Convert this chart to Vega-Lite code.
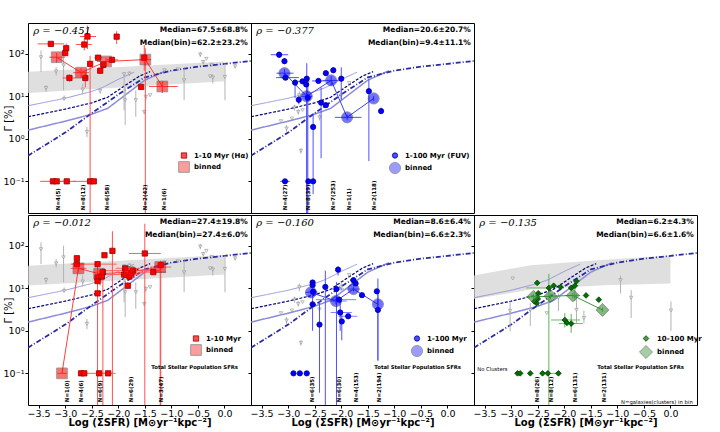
{
"$schema":"https://vega.github.io/schema/vega-lite/v6.json",
"background":"white",
"padding":{"left":2,"top":22,"right":0,"bottom":0},
"autosize":{"type":"pad"},
"config":{"font":"DejaVu Sans","view":{"stroke":"black","strokeWidth":1},
 "axis":{"domain":false,"grid":false,"tickColor":"black","tickSize":3,"labelColor":"black","labelFontSize":9.5,"titleColor":"black","titleFontSize":10,"titleFontWeight":"normal","labelPadding":1},
 "legend":{"labelFontSize":7,"labelFontWeight":"bold","padding":0,"rowPadding":0,"labelOffset":4,"symbolStrokeWidth":0.8},
 "text":{"color":"black"}},
"datasets":{
"band":[
{"p":"p1","x":-3.7,"lo":12,"hi":38},{"p":"p1","x":0.0,"lo":22.5,"hi":66},
{"p":"p3","x":-3.7,"lo":11.7,"hi":34},{"p":"p3","x":0.0,"lo":21,"hi":61},
{"p":"p5","x":-3.7,"lo":5.6,"hi":20},{"p":"p5","x":-3.13,"lo":7.3,"hi":27},{"p":"p5","x":-2.63,"lo":9.4,"hi":35},{"p":"p5","x":-1.68,"lo":11,"hi":43},{"p":"p5","x":-1.25,"lo":11.8,"hi":47},{"p":"p5","x":0.0,"lo":12.9,"hi":58}
],
"model":[
{"m":"up","x":-3.7,"y":6.0},{"m":"up","x":-3.0,"y":9.0},{"m":"up","x":-2.5,"y":13},{"m":"up","x":-2.3,"y":16},{"m":"up","x":-2.0,"y":25},{"m":"up","x":-1.7,"y":37},
{"m":"dash","x":-3.7,"y":3.3},{"m":"dash","x":-3.0,"y":5.0},{"m":"dash","x":-2.5,"y":7.0},{"m":"dash","x":-2.2,"y":9.5},{"m":"dash","x":-1.9,"y":17},{"m":"dash","x":-1.6,"y":30},{"m":"dash","x":-1.4,"y":38},
{"m":"low","x":-3.7,"y":1.6},{"m":"low","x":-3.0,"y":2.6},{"m":"low","x":-2.5,"y":3.8},{"m":"low","x":-2.2,"y":5.2},{"m":"low","x":-1.9,"y":10},{"m":"low","x":-1.5,"y":24},{"m":"low","x":-1.1,"y":40},
{"m":"dd","x":-3.7,"y":0.4},{"m":"dd","x":-3.0,"y":1.4},{"m":"dd","x":-2.5,"y":4.0},{"m":"dd","x":-2.0,"y":11},{"m":"dd","x":-1.5,"y":28},{"m":"dd","x":-1.0,"y":40},{"m":"dd","x":-0.5,"y":50},{"m":"dd","x":0.0,"y":58},{"m":"dd","x":0.5,"y":68}
],
"grey":[
{"g":"A","x":-3.455,"y":83,"ylo":37,"yhi":120},{"g":"A","x":-3.36,"y":15.7,"ylo":12.6,"yhi":18},{"g":"A","x":-3.17,"y":38.5,"ylo":31,"yhi":49},{"g":"A","x":-3.03,"y":53.5,"ylo":13.8,"yhi":100},{"g":"A","x":-3.02,"y":8.7,"ylo":8.1,"yhi":10.5},{"g":"A","x":-2.67,"y":14.4,"ylo":11,"yhi":20},{"g":"A","x":-2.59,"y":1.46,"ylo":1.1,"yhi":1.9},{"g":"A","x":-2.34,"y":13.4,"ylo":11.5,"yhi":15},{"g":"A","x":-1.89,"y":33,"ylo":4.7,"yhi":37},{"g":"A","x":-1.87,"y":8.1,"ylo":2.1,"yhi":16.6},{"g":"A","x":-1.79,"y":34,"ylo":30,"yhi":39},{"g":"A","x":-1.67,"y":8.1,"ylo":3.3,"yhi":13.8},{"g":"A","x":-1.51,"y":4.3,"ylo":3.8,"yhi":4.8},{"g":"A","x":-1.48,"y":9.7,"ylo":8,"yhi":11},{"g":"A","x":-1.40,"y":10.6},{"g":"A","x":-1.13,"y":41,"ylo":38,"yhi":44},{"g":"A","x":-0.88,"y":43},{"g":"A","x":-0.76,"y":23.7,"ylo":8.1,"yhi":45},{"g":"A","x":-0.455,"y":96,"ylo":83,"yhi":110},{"g":"A","x":-0.40,"y":64,"ylo":57,"yhi":72},{"g":"A","x":-0.34,"y":76},{"g":"A","x":-0.24,"y":55,"ylo":50,"yhi":60},{"g":"A","x":-0.27,"y":29.5},{"g":"A","x":-0.22,"y":27.5,"ylo":20,"yhi":33},{"g":"A","x":0.01,"y":28.5,"ylo":8.1,"yhi":59},{"g":"A","x":0.20,"y":51,"ylo":45,"yhi":58},
{"g":"B","x":-3.135,"y":2.6},{"g":"B","x":-3.03,"y":1.74,"ylo":1.45,"yhi":2.1},{"g":"B","x":-2.88,"y":5.4,"ylo":4.6,"yhi":6.4},{"g":"B","x":-2.93,"y":3.0},{"g":"B","x":-2.81,"y":4.3,"ylo":3.7,"yhi":5},{"g":"B","x":-2.79,"y":10.6,"ylo":8.5,"yhi":13},{"g":"B","x":-2.73,"y":4.7},{"g":"B","x":-2.76,"y":0.52,"ylo":0.45,"yhi":0.6},{"g":"B","x":-2.41,"y":3.2,"ylo":2.7,"yhi":3.8},{"g":"B","x":-2.0,"y":10.5,"ylo":8,"yhi":14},{"g":"B","x":-1.85,"y":20.5},
{"g":"C","x":-2.97,"y":17},{"g":"C","x":-3.02,"y":2.95,"ylo":0.98,"yhi":4.9},{"g":"C","x":-2.64,"y":3.1,"ylo":1.3,"yhi":4.5},{"g":"C","x":-2.33,"y":2.6},{"g":"C","x":-2.11,"y":6.0,"ylo":2.9,"yhi":7.5},{"g":"C","x":-1.77,"y":3.1,"ylo":1.5,"yhi":7.5},{"g":"C","x":-1.63,"y":2.0,"ylo":1.5,"yhi":3.0},{"g":"C","x":-0.94,"y":15.5,"ylo":7.6,"yhi":20},{"g":"C","x":-0.74,"y":6.0,"ylo":2.0,"yhi":9.1},{"g":"C","x":0.01,"y":3.0,"ylo":1.0,"yhi":4.9}
],
"pts":[
{"p":"p1","s":"1-10 Myr (Hα)","x":-3.27,"y":171,"xlo":-3.52,"xhi":-3.02,"ylo":150,"yhi":195},
{"p":"p1","s":"1-10 Myr (Hα)","x":-2.98,"y":135,"ylo":105,"yhi":175},
{"p":"p1","s":"1-10 Myr (Hα)","x":-3.0,"y":104,"ylo":88,"yhi":120},
{"p":"p1","s":"1-10 Myr (Hα)","x":-2.92,"y":27,"xlo":-3.05,"xhi":-2.8,"ylo":22,"yhi":33},
{"p":"p1","s":"1-10 Myr (Hα)","x":-2.64,"y":165,"xlo":-2.8,"xhi":-2.5,"ylo":120,"yhi":230},
{"p":"p1","s":"1-10 Myr (Hα)","x":-2.58,"y":255,"xlo":-2.72,"xhi":-2.42,"ylo":130,"yhi":460},
{"p":"p1","s":"1-10 Myr (Hα)","x":-2.53,"y":58,"ylo":0.01,"yhi":90},
{"p":"p1","s":"1-10 Myr (Hα)","x":-2.62,"y":27,"ylo":16,"yhi":38},
{"p":"p1","s":"1-10 Myr (Hα)","x":-2.38,"y":81,"xlo":-2.45,"xhi":-2.3},
{"p":"p1","s":"1-10 Myr (Hα)","x":-2.34,"y":40,"ylo":34,"yhi":47},
{"p":"p1","s":"1-10 Myr (Hα)","x":-2.28,"y":55,"ylo":45,"yhi":66},
{"p":"p1","s":"1-10 Myr (Hα)","x":-2.12,"y":72,"xlo":-2.22,"xhi":-2.0},
{"p":"p1","s":"1-10 Myr (Hα)","x":-2.03,"y":253,"ylo":170,"yhi":340},
{"p":"p1","s":"1-10 Myr (Hα)","x":-1.51,"y":81,"ylo":40,"yhi":160},
{"p":"p1","s":"1-10 Myr (Hα)","x":-1.57,"y":16.6},
{"p":"p1","s":"1-10 Myr (Hα)","x":-3.23,"y":0.1,"xlo":-3.47,"xhi":-3.0},
{"p":"p1","s":"1-10 Myr (Hα)","x":-3.16,"y":0.1},
{"p":"p1","s":"1-10 Myr (Hα)","x":-2.97,"y":0.1,"xlo":-3.1,"xhi":-2.8},
{"p":"p1","s":"1-10 Myr (Hα)","x":-2.53,"y":0.1,"xlo":-2.85,"xhi":-2.44},
{"p":"p1","s":"1-10 Myr (Hα)","x":-2.46,"y":0.1},
{"p":"p1","s":"binned","x":-3.16,"y":83,"xlo":-3.3,"xhi":-3.0,"ylo":62,"yhi":105},
{"p":"p1","s":"binned","x":-2.70,"y":36,"xlo":-2.85,"xhi":-2.55,"ylo":27,"yhi":46},
{"p":"p1","s":"binned","x":-2.23,"y":66,"xlo":-2.4,"xhi":-2.05,"ylo":52,"yhi":82},
{"p":"p1","s":"binned","x":-1.49,"y":73,"xlo":-1.6,"xhi":-1.38,"ylo":0.01,"yhi":135},
{"p":"p1","s":"binned","x":-1.17,"y":17,"xlo":-1.42,"xhi":-0.88,"ylo":12,"yhi":23},

{"p":"p2","s":"1-100 Myr (FUV)","x":-3.17,"y":95,"xlo":-3.33,"xhi":-3.0,"ylo":80,"yhi":112},
{"p":"p2","s":"1-100 Myr (FUV)","x":-3.07,"y":67,"ylo":57,"yhi":80},
{"p":"p2","s":"1-100 Myr (FUV)","x":-3.05,"y":27.5,"xlo":-3.23,"xhi":-2.8},
{"p":"p2","s":"1-100 Myr (FUV)","x":-2.87,"y":21,"ylo":9,"yhi":25},
{"p":"p2","s":"1-100 Myr (FUV)","x":-2.80,"y":8.3,"ylo":6.5,"yhi":10},
{"p":"p2","s":"1-100 Myr (FUV)","x":-2.73,"y":22.5,"xlo":-2.86,"xhi":-2.6},
{"p":"p2","s":"1-100 Myr (FUV)","x":-2.65,"y":26,"ylo":0.01,"yhi":60},
{"p":"p2","s":"1-100 Myr (FUV)","x":-2.66,"y":19},
{"p":"p2","s":"1-100 Myr (FUV)","x":-2.63,"y":9.3,"ylo":0.01,"yhi":20},
{"p":"p2","s":"1-100 Myr (FUV)","x":-2.53,"y":1.9,"ylo":0.05,"yhi":4.0},
{"p":"p2","s":"1-100 Myr (FUV)","x":-2.43,"y":23,"xlo":-2.55,"xhi":-2.3},
{"p":"p2","s":"1-100 Myr (FUV)","x":-2.38,"y":7.1,"ylo":0.35,"yhi":16},
{"p":"p2","s":"1-100 Myr (FUV)","x":-2.29,"y":35,"ylo":30,"yhi":40},
{"p":"p2","s":"1-100 Myr (FUV)","x":-2.29,"y":6.2,"ylo":5.4,"yhi":7.2},
{"p":"p2","s":"1-100 Myr (FUV)","x":-2.15,"y":41,"ylo":36,"yhi":46},
{"p":"p2","s":"1-100 Myr (FUV)","x":-2.0,"y":26,"ylo":8,"yhi":48},
{"p":"p2","s":"1-100 Myr (FUV)","x":-1.48,"y":13.2,"ylo":0.3,"yhi":26},
{"p":"p2","s":"1-100 Myr (FUV)","x":-1.25,"y":4.5,"ylo":3.8,"yhi":5.4},
{"p":"p2","s":"1-100 Myr (FUV)","x":-3.06,"y":0.1,"xlo":-3.15,"xhi":-2.97},
{"p":"p2","s":"1-100 Myr (FUV)","x":-2.62,"y":0.1},
{"p":"p2","s":"1-100 Myr (FUV)","x":-2.53,"y":0.1},
{"p":"p2","s":"binned","x":-3.07,"y":35,"xlo":-3.22,"xhi":-2.9,"ylo":28,"yhi":43},
{"p":"p2","s":"binned","x":-2.65,"y":10,"xlo":-2.78,"xhi":-2.55,"ylo":0.01,"yhi":22},
{"p":"p2","s":"binned","x":-2.19,"y":23.7,"xlo":-2.35,"xhi":-2.05,"ylo":18,"yhi":30},
{"p":"p2","s":"binned","x":-1.89,"y":3.2,"xlo":-2.12,"xhi":-1.62,"ylo":2.8,"yhi":3.7},
{"p":"p2","s":"binned","x":-1.39,"y":8.9,"ylo":7.8,"yhi":10},

{"p":"p3","s":"1-10 Myr","x":-2.78,"y":51,"ylo":44,"yhi":58},
{"p":"p3","s":"1-10 Myr","x":-2.78,"y":37,"xlo":-2.9,"xhi":-2.65},
{"p":"p3","s":"1-10 Myr","x":-2.39,"y":37,"xlo":-2.77,"xhi":-2.03},
{"p":"p3","s":"1-10 Myr","x":-2.39,"y":18},
{"p":"p3","s":"1-10 Myr","x":-2.39,"y":14.8,"ylo":0.01,"yhi":40},
{"p":"p3","s":"1-10 Myr","x":-2.39,"y":7.6,"ylo":6.5,"yhi":9},
{"p":"p3","s":"1-10 Myr","x":-2.31,"y":19,"ylo":15,"yhi":23},
{"p":"p3","s":"1-10 Myr","x":-2.29,"y":24,"ylo":0.01,"yhi":30},
{"p":"p3","s":"1-10 Myr","x":-2.26,"y":60},
{"p":"p3","s":"1-10 Myr","x":-2.11,"y":76,"ylo":0.01,"yhi":220},
{"p":"p3","s":"1-10 Myr","x":-1.89,"y":21,"xlo":-2.3,"xhi":-1.6},
{"p":"p3","s":"1-10 Myr","x":-1.87,"y":29.5,"xlo":-2.05,"xhi":-1.6},
{"p":"p3","s":"1-10 Myr","x":-1.82,"y":11.5,"ylo":9.5,"yhi":14},
{"p":"p3","s":"1-10 Myr","x":-1.79,"y":19},
{"p":"p3","s":"1-10 Myr","x":-1.76,"y":23,"xlo":-2.0,"xhi":-1.5},
{"p":"p3","s":"1-10 Myr","x":-1.72,"y":26,"xlo":-2.3,"xhi":-1.2},
{"p":"p3","s":"1-10 Myr","x":-1.50,"y":66,"xlo":-1.8,"xhi":-1.2,"ylo":0.01,"yhi":330},
{"p":"p3","s":"1-10 Myr","x":-1.34,"y":24,"xlo":-1.6,"xhi":-1.1},
{"p":"p3","s":"1-10 Myr","x":-1.20,"y":35,"ylo":0.01,"yhi":45},
{"p":"p3","s":"1-10 Myr","x":-2.70,"y":0.1},
{"p":"p3","s":"1-10 Myr","x":-2.64,"y":0.1},
{"p":"p3","s":"1-10 Myr","x":-2.36,"y":0.1,"xlo":-2.7,"xhi":-2.1},
{"p":"p3","s":"1-10 Myr","x":-2.19,"y":0.1,"xlo":-2.3,"xhi":-2.05},
{"p":"p3","s":"binned","x":-3.06,"y":0.1,"xlo":-3.15,"xhi":-2.97},
{"p":"p3","s":"binned","x":-2.75,"y":29.5,"xlo":-2.9,"xhi":-2.6,"ylo":25,"yhi":35},
{"p":"p3","s":"binned","x":-2.36,"y":22,"ylo":17,"yhi":27},
{"p":"p3","s":"binned","x":-1.80,"y":24,"ylo":20,"yhi":28},
{"p":"p3","s":"binned","x":-1.21,"y":31.6,"xlo":-1.4,"xhi":-1.0,"ylo":0.01,"yhi":40},

{"p":"p4","s":"1-100 Myr","x":-2.54,"y":13.7},
{"p":"p4","s":"1-100 Myr","x":-2.54,"y":11.8,"ylo":10,"yhi":13.5},
{"p":"p4","s":"1-100 Myr","x":-2.53,"y":8.3,"xlo":-2.62,"xhi":-2.45},
{"p":"p4","s":"1-100 Myr","x":-2.54,"y":4.2,"ylo":1.0,"yhi":7},
{"p":"p4","s":"1-100 Myr","x":-2.41,"y":1.4,"ylo":0.035,"yhi":4.9},
{"p":"p4","s":"1-100 Myr","x":-2.30,"y":10.8,"ylo":0.01,"yhi":26},
{"p":"p4","s":"1-100 Myr","x":-2.06,"y":27.5,"ylo":20,"yhi":33},
{"p":"p4","s":"1-100 Myr","x":-2.09,"y":9.6,"xlo":-2.2,"xhi":-1.95,"ylo":0.01,"yhi":14},
{"p":"p4","s":"1-100 Myr","x":-2.04,"y":5.4,"xlo":-2.48,"xhi":-1.72},
{"p":"p4","s":"1-100 Myr","x":-2.02,"y":2.7,"xlo":-2.2,"xhi":-1.8,"ylo":1.0,"yhi":5.5},
{"p":"p4","s":"1-100 Myr","x":-1.99,"y":1.66,"ylo":0.6,"yhi":2.7},
{"p":"p4","s":"1-100 Myr","x":-1.87,"y":2.2,"xlo":-2.05,"xhi":-1.7},
{"p":"p4","s":"1-100 Myr","x":-1.77,"y":15.5},
{"p":"p4","s":"1-100 Myr","x":-1.73,"y":13},
{"p":"p4","s":"1-100 Myr","x":-1.61,"y":6.9},
{"p":"p4","s":"1-100 Myr","x":-1.33,"y":8.5},
{"p":"p4","s":"1-100 Myr","x":-1.31,"y":3.1,"ylo":0.2,"yhi":17},
{"p":"p4","s":"1-100 Myr","x":-2.90,"y":0.1},
{"p":"p4","s":"1-100 Myr","x":-2.78,"y":0.1},
{"p":"p4","s":"1-100 Myr","x":-2.65,"y":0.1},
{"p":"p4","s":"binned","x":-2.57,"y":8.0,"xlo":-2.68,"xhi":-2.45,"ylo":7,"yhi":9},
{"p":"p4","s":"binned","x":-2.10,"y":5.0,"xlo":-2.3,"xhi":-1.9,"ylo":4.3,"yhi":5.8},
{"p":"p4","s":"binned","x":-1.77,"y":9.6,"xlo":-1.9,"xhi":-1.65,"ylo":8.5,"yhi":11},
{"p":"p4","s":"binned","x":-1.31,"y":4.2,"ylo":0.2,"yhi":9},

{"p":"p5","s":"10-100 Myr","x":-2.51,"y":13.4},
{"p":"p5","s":"10-100 Myr","x":-2.49,"y":7.6},
{"p":"p5","s":"10-100 Myr","x":-2.50,"y":5.6},
{"p":"p5","s":"10-100 Myr","x":-2.52,"y":4.5},
{"p":"p5","s":"10-100 Myr","x":-2.56,"y":4.9},
{"p":"p5","s":"10-100 Myr","x":-2.29,"y":10.2,"xlo":-2.72,"xhi":-2.28,"ylo":0.01,"yhi":22},
{"p":"p5","s":"10-100 Myr","x":-2.20,"y":11.5},
{"p":"p5","s":"10-100 Myr","x":-2.07,"y":10.7},
{"p":"p5","s":"10-100 Myr","x":-1.87,"y":10.2},
{"p":"p5","s":"10-100 Myr","x":-1.80,"y":11.5,"ylo":5,"yhi":14},
{"p":"p5","s":"10-100 Myr","x":-1.77,"y":14.8},
{"p":"p5","s":"10-100 Myr","x":-1.59,"y":6.8},
{"p":"p5","s":"10-100 Myr","x":-1.35,"y":5.4},
{"p":"p5","s":"10-100 Myr","x":-1.99,"y":1.8,"xlo":-2.25,"xhi":-1.7,"ylo":1.2,"yhi":2.6},
{"p":"p5","s":"10-100 Myr","x":-1.95,"y":1.54},
{"p":"p5","s":"10-100 Myr","x":-1.87,"y":1.48,"xlo":-2.1,"xhi":-1.65,"ylo":0.9,"yhi":2.5},
{"p":"p5","s":"10-100 Myr","x":-2.88,"y":0.1,"xlo":-2.93,"xhi":-2.83},
{"p":"p5","s":"10-100 Myr","x":-2.83,"y":0.1},
{"p":"p5","s":"10-100 Myr","x":-2.64,"y":0.1},
{"p":"p5","s":"10-100 Myr","x":-2.41,"y":0.1},
{"p":"p5","s":"10-100 Myr","x":-2.31,"y":0.1,"xlo":-2.45,"xhi":-2.15},
{"p":"p5","s":"10-100 Myr","x":-2.11,"y":0.1},
{"p":"p5","s":"binned","x":-2.58,"y":6.3,"xlo":-2.72,"xhi":-2.45,"ylo":5.3,"yhi":7.3},
{"p":"p5","s":"binned","x":-2.26,"y":6.5,"ylo":5.5,"yhi":7.5},
{"p":"p5","s":"binned","x":-1.84,"y":6.8,"xlo":-1.98,"xhi":-1.7,"ylo":5.8,"yhi":7.8},
{"p":"p5","s":"binned","x":-1.28,"y":3.1,"ylo":2.8,"yhi":3.5}
],
"nlab":[
{"p":"p1","x":-3.14,"y":0.021,"t":"N=4(5)"},{"p":"p1","x":-2.67,"y":0.021,"t":"N=8(12)"},{"p":"p1","x":-2.21,"y":0.021,"t":"N=6(58)"},{"p":"p1","x":-1.50,"y":0.021,"t":"N=2(42)"},{"p":"p1","x":-1.13,"y":0.021,"t":"N=1(6)"},
{"p":"p2","x":-3.06,"y":0.021,"t":"N=4(27)"},{"p":"p2","x":-2.62,"y":0.021,"t":"N=8(39)"},{"p":"p2","x":-2.16,"y":0.021,"t":"N=7(253)"},{"p":"p2","x":-1.85,"y":0.021,"t":"N=1(1)"},{"p":"p2","x":-1.38,"y":0.021,"t":"N=2(118)"},
{"p":"p3","x":-2.97,"y":0.021,"t":"N=1(0)"},{"p":"p3","x":-2.70,"y":0.021,"t":"N=4(6)"},{"p":"p3","x":-2.34,"y":0.021,"t":"N=6(9)"},{"p":"p3","x":-1.76,"y":0.021,"t":"N=6(29)"},{"p":"p3","x":-1.20,"y":0.021,"t":"N=3(47)"},
{"p":"p4","x":-2.55,"y":0.021,"t":"N=6(35)"},{"p":"p4","x":-2.05,"y":0.021,"t":"N=6(30)"},{"p":"p4","x":-1.72,"y":0.021,"t":"N=4(153)"},{"p":"p4","x":-1.28,"y":0.021,"t":"N=2(194)"},
{"p":"p5","x":-2.51,"y":0.021,"t":"N=8(26)"},{"p":"p5","x":-2.25,"y":0.021,"t":"N=8(12)"},{"p":"p5","x":-1.80,"y":0.021,"t":"N=6(131)"},{"p":"p5","x":-1.25,"y":0.021,"t":"N=2(131)"}
],
"ann":[
{"p":"p1","k":"rho","t":"ρ = −0.451","x":-3.6,"y":344},
{"p":"p1","k":"med","t":"Median=67.5±68.8%","x":0.44,"y":362},
{"p":"p1","k":"med","t":"Median(bin)=62.2±23.2%","x":0.44,"y":179},
{"p":"p2","k":"rho","t":"ρ = −0.377","x":-3.6,"y":344},
{"p":"p2","k":"med","t":"Median=20.6±20.7%","x":0.44,"y":362},
{"p":"p2","k":"med","t":"Median(bin)=9.4±11.1%","x":0.44,"y":179},
{"p":"p3","k":"rho","t":"ρ = −0.012","x":-3.6,"y":344},
{"p":"p3","k":"med","t":"Median=27.4±19.8%","x":0.44,"y":362},
{"p":"p3","k":"med","t":"Median(bin)=27.4±6.0%","x":0.44,"y":179},
{"p":"p3","k":"tsp","t":"Total Stellar Population SFRs","x":0.255,"y":0.14},
{"p":"p4","k":"rho","t":"ρ = −0.160","x":-3.6,"y":344},
{"p":"p4","k":"med","t":"Median=8.6±6.4%","x":0.44,"y":362},
{"p":"p4","k":"med","t":"Median(bin)=6.6±2.3%","x":0.44,"y":179},
{"p":"p4","k":"tsp","t":"Total Stellar Population SFRs","x":0.255,"y":0.14},
{"p":"p5","k":"rho","t":"ρ = −0.135","x":-3.6,"y":344},
{"p":"p5","k":"med","t":"Median=6.2±4.3%","x":0.44,"y":362},
{"p":"p5","k":"med","t":"Median(bin)=6.6±1.6%","x":0.44,"y":179},
{"p":"p5","k":"tsp","t":"Total Stellar Population SFRs","x":0.255,"y":0.14},
{"p":"p5","k":"nocl","t":"No Clusters","x":-3.64,"y":0.1},
{"p":"p5","k":"nbin","t":"N=galaxies(clusters) in bin","x":0.42,"y":0.021}
]
},
"spacing":0,
"resolve":{"scale":{"fill":"independent","stroke":"independent","size":"independent","opacity":"independent"}},
"vconcat":[
{"spacing":0,"bounds":"flush",
 "resolve":{"scale":{"fill":"independent","stroke":"independent","size":"independent","opacity":"independent"}},
 "hconcat":[
 {"width":223,"height":190,
  "encoding":{
   "x":{"field":"x","type":"quantitative","scale":{"domain":[-3.7,0.5],"nice":false,"zero":false},"axis":{"values":[-3.5,-3,-2.5,-2,-1.5,-1,-0.5,0],"labels":false,"ticks":false,"title":null}},
   "y":{"field":"y","type":"quantitative","scale":{"type":"log","domain":[0.018,530],"nice":false},"axis":{"values":[0.1,1,10,100],"labelExpr":"datum.value>50?'10²':datum.value>5?'10¹':datum.value>0.5?'10⁰':'10⁻¹'","title":"Γ [%]","titleX":-20,"titleBaseline":"middle"}}},
  "layer":[
   {"data":{"name":"band"},"transform":[{"filter":"datum.p==='p1'"}],"mark":{"type":"area","color":"#d4d4d4","opacity":0.75},"encoding":{"y":{"field":"lo","type":"quantitative","scale":{"type":"log","domain":[0.018,530],"nice":false}},"y2":{"field":"hi"}}},
   {"data":{"values":[{}]},"mark":{"type":"rule","color":"#9999dd","strokeDash":[4,2],"strokeWidth":0.8},"encoding":{"x":{"datum":-3.7},"x2":{"datum":0.5},"y":{"datum":0.1}}},
   {"data":{"name":"model"},"mark":{"type":"line","clip":true},"encoding":{"color":{"field":"m","type":"nominal","scale":{"domain":["up","dash","low","dd"],"range":["#8c8cd9","#00007a","#8c8cd9","#2a2aa5"]},"legend":null},"strokeDash":{"field":"m","type":"nominal","scale":{"domain":["up","dash","low","dd"],"range":[[1,0],[3,1.5],[1,0],[5,2,1,2]]},"legend":null},"strokeWidth":{"field":"m","type":"ordinal","scale":{"domain":["up","dash","low","dd"],"range":[0.9,1.8,0.9,1.3]},"legend":null}}},
   {"data":{"name":"grey"},"transform":[{"filter":"datum.g==='A' && isValid(datum.ylo)"}],"mark":{"type":"rule","color":"#b3b3b3","strokeWidth":1,"clip":true},"encoding":{"y":{"field":"ylo","type":"quantitative","scale":{"type":"log","domain":[0.018,530],"nice":false}},"y2":{"field":"yhi"}}},
   {"data":{"name":"grey"},"transform":[{"filter":"datum.g==='A'"}],"mark":{"type":"point","shape":"triangle-down","size":12,"filled":true,"fill":"#f4f4f4","stroke":"#8a8a8a","strokeWidth":0.8}},
   {"data":{"name":"pts"},"transform":[{"filter":"datum.p==='p1' && isValid(datum.xlo)"}],"mark":{"type":"rule","color":"#ff5050","strokeWidth":1,"clip":true},"encoding":{"x":{"field":"xlo","type":"quantitative","scale":{"domain":[-3.7,0.5],"nice":false,"zero":false}},"x2":{"field":"xhi"}}},
   {"data":{"name":"pts"},"transform":[{"filter":"datum.p==='p1' && isValid(datum.ylo)"}],"mark":{"type":"rule","color":"#ff5050","strokeWidth":1,"clip":true},"encoding":{"y":{"field":"ylo","type":"quantitative","scale":{"type":"log","domain":[0.018,530],"nice":false}},"y2":{"field":"yhi"}}},
   {"data":{"name":"pts"},"transform":[{"filter":"datum.p==='p1' && datum.s==='binned'"}],"mark":{"type":"line","color":"#ff4040","strokeWidth":1}},
   {"data":{"name":"pts"},"transform":[{"filter":"datum.p==='p1'"}],"mark":{"type":"point","shape":"square","filled":true,"strokeWidth":0.8},
    "encoding":{
     "fill":{"field":"s","type":"nominal","scale":{"domain":["1-10 Myr (Hα)","binned"],"range":["#ff0000","#ff0000"]},"legend":{"orient":"none","legendX":150,"legendY":129,"title":null}},
     "stroke":{"field":"s","type":"nominal","scale":{"domain":["1-10 Myr (Hα)","binned"],"range":["#a00000","#333333"]},"legend":{"orient":"none","legendX":150,"legendY":129,"title":null}},
     "size":{"field":"s","type":"ordinal","scale":{"domain":["1-10 Myr (Hα)","binned"],"range":[28,115]},"legend":{"orient":"none","legendX":150,"legendY":129,"title":null}},
     "opacity":{"field":"s","type":"ordinal","scale":{"domain":["1-10 Myr (Hα)","binned"],"range":[1,0.55]},"legend":{"orient":"none","legendX":150,"legendY":129,"title":null}}}},
   {"data":{"name":"nlab"},"transform":[{"filter":"datum.p==='p1'"}],"mark":{"type":"text","angle":270,"align":"left","baseline":"middle","fontSize":5.5,"fontWeight":"bold"},"encoding":{"text":{"field":"t","type":"nominal"}}},
   {"data":{"name":"ann"},"transform":[{"filter":"datum.p==='p1' && datum.k==='rho'"}],"mark":{"type":"text","align":"left","baseline":"middle","font":"DejaVu Serif","fontStyle":"italic","fontSize":10},"encoding":{"text":{"field":"t","type":"nominal"}}},
   {"data":{"name":"ann"},"transform":[{"filter":"datum.p==='p1' && datum.k==='med'"}],"mark":{"type":"text","align":"right","baseline":"middle","fontSize":7.5,"fontWeight":"bold"},"encoding":{"text":{"field":"t","type":"nominal"}}}
  ]},
 {"width":223,"height":190,
  "encoding":{
   "x":{"field":"x","type":"quantitative","scale":{"domain":[-3.7,0.5],"nice":false,"zero":false},"axis":{"values":[-3.5,-3,-2.5,-2,-1.5,-1,-0.5,0],"labels":false,"ticks":false,"title":null}},
   "y":{"field":"y","type":"quantitative","scale":{"type":"log","domain":[0.018,530],"nice":false},"axis":{"values":[0.1,1,10,100],"labels":false,"title":null}}},
  "layer":[
   {"data":{"values":[{}]},"mark":{"type":"rule","color":"#9999dd","strokeDash":[4,2],"strokeWidth":0.8},"encoding":{"x":{"datum":-3.7},"x2":{"datum":0.5},"y":{"datum":0.1}}},
   {"data":{"name":"model"},"mark":{"type":"line","clip":true},"encoding":{"color":{"field":"m","type":"nominal","scale":{"domain":["up","dash","low","dd"],"range":["#8c8cd9","#00007a","#8c8cd9","#2a2aa5"]},"legend":null},"strokeDash":{"field":"m","type":"nominal","scale":{"domain":["up","dash","low","dd"],"range":[[1,0],[3,1.5],[1,0],[5,2,1,2]]},"legend":null},"strokeWidth":{"field":"m","type":"ordinal","scale":{"domain":["up","dash","low","dd"],"range":[0.9,1.8,0.9,1.3]},"legend":null}}},
   {"data":{"name":"grey"},"transform":[{"filter":"datum.g==='B' && isValid(datum.ylo)"}],"mark":{"type":"rule","color":"#b3b3b3","strokeWidth":1,"clip":true},"encoding":{"y":{"field":"ylo","type":"quantitative","scale":{"type":"log","domain":[0.018,530],"nice":false}},"y2":{"field":"yhi"}}},
   {"data":{"name":"grey"},"transform":[{"filter":"datum.g==='B'"}],"mark":{"type":"point","shape":"triangle-down","size":12,"filled":true,"fill":"#f4f4f4","stroke":"#8a8a8a","strokeWidth":0.8}},
   {"data":{"name":"pts"},"transform":[{"filter":"datum.p==='p2' && isValid(datum.xlo)"}],"mark":{"type":"rule","color":"#5050ff","strokeWidth":1,"clip":true},"encoding":{"x":{"field":"xlo","type":"quantitative","scale":{"domain":[-3.7,0.5],"nice":false,"zero":false}},"x2":{"field":"xhi"}}},
   {"data":{"name":"pts"},"transform":[{"filter":"datum.p==='p2' && isValid(datum.ylo)"}],"mark":{"type":"rule","color":"#5050ff","strokeWidth":1,"clip":true},"encoding":{"y":{"field":"ylo","type":"quantitative","scale":{"type":"log","domain":[0.018,530],"nice":false}},"y2":{"field":"yhi"}}},
   {"data":{"name":"pts"},"transform":[{"filter":"datum.p==='p2' && datum.s==='binned'"}],"mark":{"type":"line","color":"#4040ff","strokeWidth":1}},
   {"data":{"name":"pts"},"transform":[{"filter":"datum.p==='p2'"}],"mark":{"type":"point","shape":"circle","filled":true,"strokeWidth":0.8},
    "encoding":{
     "fill":{"field":"s","type":"nominal","scale":{"domain":["1-100 Myr (FUV)","binned"],"range":["#0000ff","#0000ff"]},"legend":{"orient":"none","legendX":138,"legendY":129,"title":null}},
     "stroke":{"field":"s","type":"nominal","scale":{"domain":["1-100 Myr (FUV)","binned"],"range":["#0000a0","#333333"]},"legend":{"orient":"none","legendX":138,"legendY":129,"title":null}},
     "size":{"field":"s","type":"ordinal","scale":{"domain":["1-100 Myr (FUV)","binned"],"range":[28,125]},"legend":{"orient":"none","legendX":138,"legendY":129,"title":null}},
     "opacity":{"field":"s","type":"ordinal","scale":{"domain":["1-100 Myr (FUV)","binned"],"range":[1,0.55]},"legend":{"orient":"none","legendX":138,"legendY":129,"title":null}}}},
   {"data":{"name":"nlab"},"transform":[{"filter":"datum.p==='p2'"}],"mark":{"type":"text","angle":270,"align":"left","baseline":"middle","fontSize":5.5,"fontWeight":"bold"},"encoding":{"text":{"field":"t","type":"nominal"}}},
   {"data":{"name":"ann"},"transform":[{"filter":"datum.p==='p2' && datum.k==='rho'"}],"mark":{"type":"text","align":"left","baseline":"middle","font":"DejaVu Serif","fontStyle":"italic","fontSize":10},"encoding":{"text":{"field":"t","type":"nominal"}}},
   {"data":{"name":"ann"},"transform":[{"filter":"datum.p==='p2' && datum.k==='med'"}],"mark":{"type":"text","align":"right","baseline":"middle","fontSize":7.5,"fontWeight":"bold"},"encoding":{"text":{"field":"t","type":"nominal"}}}
  ]}
 ]},
{"spacing":0,"bounds":"flush",
 "resolve":{"scale":{"fill":"independent","stroke":"independent","size":"independent","opacity":"independent"}},
 "hconcat":[
 {"width":223,"height":190,
  "encoding":{
   "x":{"field":"x","type":"quantitative","scale":{"domain":[-3.7,0.5],"nice":false,"zero":false},"axis":{"values":[-3.5,-3,-2.5,-2,-1.5,-1,-0.5,0],"format":".1f","title":"Log (ΣSFR) [M⊙yr⁻¹kpc⁻²]","titleFontWeight":"bold","titlePadding":0,"labelPadding":0}},
   "y":{"field":"y","type":"quantitative","scale":{"type":"log","domain":[0.018,530],"nice":false},"axis":{"values":[0.1,1,10,100],"labelExpr":"datum.value>50?'10²':datum.value>5?'10¹':datum.value>0.5?'10⁰':'10⁻¹'","title":"Γ [%]","titleX":-20,"titleBaseline":"middle"}}},
  "layer":[
   {"data":{"name":"band"},"transform":[{"filter":"datum.p==='p3'"}],"mark":{"type":"area","color":"#d4d4d4","opacity":0.75},"encoding":{"y":{"field":"lo","type":"quantitative","scale":{"type":"log","domain":[0.018,530],"nice":false}},"y2":{"field":"hi"}}},
   {"data":{"values":[{}]},"mark":{"type":"rule","color":"#9999dd","strokeDash":[4,2],"strokeWidth":0.8},"encoding":{"x":{"datum":-3.7},"x2":{"datum":0.5},"y":{"datum":0.1}}},
   {"data":{"name":"model"},"mark":{"type":"line","clip":true},"encoding":{"color":{"field":"m","type":"nominal","scale":{"domain":["up","dash","low","dd"],"range":["#8c8cd9","#00007a","#8c8cd9","#2a2aa5"]},"legend":null},"strokeDash":{"field":"m","type":"nominal","scale":{"domain":["up","dash","low","dd"],"range":[[1,0],[3,1.5],[1,0],[5,2,1,2]]},"legend":null},"strokeWidth":{"field":"m","type":"ordinal","scale":{"domain":["up","dash","low","dd"],"range":[0.9,1.8,0.9,1.3]},"legend":null}}},
   {"data":{"name":"grey"},"transform":[{"filter":"datum.g==='A' && isValid(datum.ylo)"}],"mark":{"type":"rule","color":"#b3b3b3","strokeWidth":1,"clip":true},"encoding":{"y":{"field":"ylo","type":"quantitative","scale":{"type":"log","domain":[0.018,530],"nice":false}},"y2":{"field":"yhi"}}},
   {"data":{"name":"grey"},"transform":[{"filter":"datum.g==='A'"}],"mark":{"type":"point","shape":"triangle-down","size":12,"filled":true,"fill":"#f4f4f4","stroke":"#8a8a8a","strokeWidth":0.8}},
   {"data":{"name":"pts"},"transform":[{"filter":"datum.p==='p3' && isValid(datum.xlo)"}],"mark":{"type":"rule","color":"#ff6060","strokeWidth":1,"clip":true},"encoding":{"x":{"field":"xlo","type":"quantitative","scale":{"domain":[-3.7,0.5],"nice":false,"zero":false}},"x2":{"field":"xhi"}}},
   {"data":{"name":"pts"},"transform":[{"filter":"datum.p==='p3' && isValid(datum.ylo)"}],"mark":{"type":"rule","color":"#ff5050","strokeWidth":1,"clip":true},"encoding":{"y":{"field":"ylo","type":"quantitative","scale":{"type":"log","domain":[0.018,530],"nice":false}},"y2":{"field":"yhi"}}},
   {"data":{"name":"pts"},"transform":[{"filter":"datum.p==='p3' && datum.s==='binned'"}],"mark":{"type":"line","color":"#ff4040","strokeWidth":1}},
   {"data":{"name":"pts"},"transform":[{"filter":"datum.p==='p3'"}],"mark":{"type":"point","shape":"square","filled":true,"strokeWidth":0.8},
    "encoding":{
     "fill":{"field":"s","type":"nominal","scale":{"domain":["1-10 Myr","binned"],"range":["#ff0000","#ff0000"]},"legend":{"orient":"none","legendX":162,"legendY":120,"title":null}},
     "stroke":{"field":"s","type":"nominal","scale":{"domain":["1-10 Myr","binned"],"range":["#a00000","#333333"]},"legend":{"orient":"none","legendX":162,"legendY":120,"title":null}},
     "size":{"field":"s","type":"ordinal","scale":{"domain":["1-10 Myr","binned"],"range":[28,115]},"legend":{"orient":"none","legendX":162,"legendY":120,"title":null}},
     "opacity":{"field":"s","type":"ordinal","scale":{"domain":["1-10 Myr","binned"],"range":[1,0.55]},"legend":{"orient":"none","legendX":162,"legendY":120,"title":null}}}},
   {"data":{"name":"nlab"},"transform":[{"filter":"datum.p==='p3'"}],"mark":{"type":"text","angle":270,"align":"left","baseline":"middle","fontSize":5.5,"fontWeight":"bold"},"encoding":{"text":{"field":"t","type":"nominal"}}},
   {"data":{"name":"ann"},"transform":[{"filter":"datum.p==='p3' && datum.k==='rho'"}],"mark":{"type":"text","align":"left","baseline":"middle","font":"DejaVu Serif","fontStyle":"italic","fontSize":10},"encoding":{"text":{"field":"t","type":"nominal"}}},
   {"data":{"name":"ann"},"transform":[{"filter":"datum.p==='p3' && datum.k==='med'"}],"mark":{"type":"text","align":"right","baseline":"middle","fontSize":7.5,"fontWeight":"bold"},"encoding":{"text":{"field":"t","type":"nominal"}}},
   {"data":{"name":"ann"},"transform":[{"filter":"datum.p==='p3' && datum.k==='tsp'"}],"mark":{"type":"text","align":"right","baseline":"middle","fontSize":5.3,"fontWeight":"bold"},"encoding":{"text":{"field":"t","type":"nominal"}}}
  ]},
 {"width":223,"height":190,
  "encoding":{
   "x":{"field":"x","type":"quantitative","scale":{"domain":[-3.7,0.5],"nice":false,"zero":false},"axis":{"values":[-3.5,-3,-2.5,-2,-1.5,-1,-0.5,0],"format":".1f","title":"Log (ΣSFR) [M⊙yr⁻¹kpc⁻²]","titleFontWeight":"bold","titlePadding":0,"labelPadding":0}},
   "y":{"field":"y","type":"quantitative","scale":{"type":"log","domain":[0.018,530],"nice":false},"axis":{"values":[0.1,1,10,100],"labels":false,"title":null}}},
  "layer":[
   {"data":{"values":[{}]},"mark":{"type":"rule","color":"#9999dd","strokeDash":[4,2],"strokeWidth":0.8},"encoding":{"x":{"datum":-3.7},"x2":{"datum":0.5},"y":{"datum":0.1}}},
   {"data":{"name":"model"},"mark":{"type":"line","clip":true},"encoding":{"color":{"field":"m","type":"nominal","scale":{"domain":["up","dash","low","dd"],"range":["#8c8cd9","#00007a","#8c8cd9","#2a2aa5"]},"legend":null},"strokeDash":{"field":"m","type":"nominal","scale":{"domain":["up","dash","low","dd"],"range":[[1,0],[3,1.5],[1,0],[5,2,1,2]]},"legend":null},"strokeWidth":{"field":"m","type":"ordinal","scale":{"domain":["up","dash","low","dd"],"range":[0.9,1.8,0.9,1.3]},"legend":null}}},
   {"data":{"name":"grey"},"transform":[{"filter":"datum.g==='B' && isValid(datum.ylo)"}],"mark":{"type":"rule","color":"#b3b3b3","strokeWidth":1,"clip":true},"encoding":{"y":{"field":"ylo","type":"quantitative","scale":{"type":"log","domain":[0.018,530],"nice":false}},"y2":{"field":"yhi"}}},
   {"data":{"name":"grey"},"transform":[{"filter":"datum.g==='B'"}],"mark":{"type":"point","shape":"triangle-down","size":12,"filled":true,"fill":"#f4f4f4","stroke":"#8a8a8a","strokeWidth":0.8}},
   {"data":{"name":"pts"},"transform":[{"filter":"datum.p==='p4' && isValid(datum.xlo)"}],"mark":{"type":"rule","color":"#8080ff","strokeWidth":1,"clip":true},"encoding":{"x":{"field":"xlo","type":"quantitative","scale":{"domain":[-3.7,0.5],"nice":false,"zero":false}},"x2":{"field":"xhi"}}},
   {"data":{"name":"pts"},"transform":[{"filter":"datum.p==='p4' && isValid(datum.ylo)"}],"mark":{"type":"rule","color":"#5050ff","strokeWidth":1,"clip":true},"encoding":{"y":{"field":"ylo","type":"quantitative","scale":{"type":"log","domain":[0.018,530],"nice":false}},"y2":{"field":"yhi"}}},
   {"data":{"name":"pts"},"transform":[{"filter":"datum.p==='p4' && datum.s==='binned'"}],"mark":{"type":"line","color":"#4040ff","strokeWidth":1}},
   {"data":{"name":"pts"},"transform":[{"filter":"datum.p==='p4'"}],"mark":{"type":"point","shape":"circle","filled":true,"strokeWidth":0.8},
    "encoding":{
     "fill":{"field":"s","type":"nominal","scale":{"domain":["1-100 Myr","binned"],"range":["#0000ff","#0000ff"]},"legend":{"orient":"none","legendX":160,"legendY":120,"title":null}},
     "stroke":{"field":"s","type":"nominal","scale":{"domain":["1-100 Myr","binned"],"range":["#0000a0","#333333"]},"legend":{"orient":"none","legendX":160,"legendY":120,"title":null}},
     "size":{"field":"s","type":"ordinal","scale":{"domain":["1-100 Myr","binned"],"range":[28,125]},"legend":{"orient":"none","legendX":160,"legendY":120,"title":null}},
     "opacity":{"field":"s","type":"ordinal","scale":{"domain":["1-100 Myr","binned"],"range":[1,0.55]},"legend":{"orient":"none","legendX":160,"legendY":120,"title":null}}}},
   {"data":{"name":"nlab"},"transform":[{"filter":"datum.p==='p4'"}],"mark":{"type":"text","angle":270,"align":"left","baseline":"middle","fontSize":5.5,"fontWeight":"bold"},"encoding":{"text":{"field":"t","type":"nominal"}}},
   {"data":{"name":"ann"},"transform":[{"filter":"datum.p==='p4' && datum.k==='rho'"}],"mark":{"type":"text","align":"left","baseline":"middle","font":"DejaVu Serif","fontStyle":"italic","fontSize":10},"encoding":{"text":{"field":"t","type":"nominal"}}},
   {"data":{"name":"ann"},"transform":[{"filter":"datum.p==='p4' && datum.k==='med'"}],"mark":{"type":"text","align":"right","baseline":"middle","fontSize":7.5,"fontWeight":"bold"},"encoding":{"text":{"field":"t","type":"nominal"}}},
   {"data":{"name":"ann"},"transform":[{"filter":"datum.p==='p4' && datum.k==='tsp'"}],"mark":{"type":"text","align":"right","baseline":"middle","fontSize":5.3,"fontWeight":"bold"},"encoding":{"text":{"field":"t","type":"nominal"}}}
  ]},
 {"width":223,"height":190,
  "encoding":{
   "x":{"field":"x","type":"quantitative","scale":{"domain":[-3.7,0.5],"nice":false,"zero":false},"axis":{"values":[-3.5,-3,-2.5,-2,-1.5,-1,-0.5,0],"format":".1f","title":"Log (ΣSFR) [M⊙yr⁻¹kpc⁻²]","titleFontWeight":"bold","titlePadding":0,"labelPadding":0}},
   "y":{"field":"y","type":"quantitative","scale":{"type":"log","domain":[0.018,530],"nice":false},"axis":{"values":[0.1,1,10,100],"labels":false,"title":null}}},
  "layer":[
   {"data":{"name":"band"},"transform":[{"filter":"datum.p==='p5'"}],"mark":{"type":"area","color":"#d4d4d4","opacity":0.75},"encoding":{"y":{"field":"lo","type":"quantitative","scale":{"type":"log","domain":[0.018,530],"nice":false}},"y2":{"field":"hi"}}},
   {"data":{"values":[{}]},"mark":{"type":"rule","color":"#9999dd","strokeDash":[4,2],"strokeWidth":0.8},"encoding":{"x":{"datum":-3.7},"x2":{"datum":0.5},"y":{"datum":0.1}}},
   {"data":{"name":"model"},"mark":{"type":"line","clip":true},"encoding":{"color":{"field":"m","type":"nominal","scale":{"domain":["up","dash","low","dd"],"range":["#8c8cd9","#00007a","#8c8cd9","#2a2aa5"]},"legend":null},"strokeDash":{"field":"m","type":"nominal","scale":{"domain":["up","dash","low","dd"],"range":[[1,0],[3,1.5],[1,0],[5,2,1,2]]},"legend":null},"strokeWidth":{"field":"m","type":"ordinal","scale":{"domain":["up","dash","low","dd"],"range":[0.9,1.8,0.9,1.3]},"legend":null}}},
   {"data":{"name":"grey"},"transform":[{"filter":"datum.g==='C' && isValid(datum.ylo)"}],"mark":{"type":"rule","color":"#b3b3b3","strokeWidth":1,"clip":true},"encoding":{"y":{"field":"ylo","type":"quantitative","scale":{"type":"log","domain":[0.018,530],"nice":false}},"y2":{"field":"yhi"}}},
   {"data":{"name":"grey"},"transform":[{"filter":"datum.g==='C'"}],"mark":{"type":"point","shape":"triangle-down","size":12,"filled":true,"fill":"#f4f4f4","stroke":"#8a8a8a","strokeWidth":0.8}},
   {"data":{"name":"pts"},"transform":[{"filter":"datum.p==='p5' && isValid(datum.xlo)"}],"mark":{"type":"rule","color":"#70b870","strokeWidth":1,"clip":true},"encoding":{"x":{"field":"xlo","type":"quantitative","scale":{"domain":[-3.7,0.5],"nice":false,"zero":false}},"x2":{"field":"xhi"}}},
   {"data":{"name":"pts"},"transform":[{"filter":"datum.p==='p5' && isValid(datum.ylo)"}],"mark":{"type":"rule","color":"#60b060","strokeWidth":1,"clip":true},"encoding":{"y":{"field":"ylo","type":"quantitative","scale":{"type":"log","domain":[0.018,530],"nice":false}},"y2":{"field":"yhi"}}},
   {"data":{"name":"pts"},"transform":[{"filter":"datum.p==='p5' && datum.s==='binned'"}],"mark":{"type":"line","color":"#3a9a3a","strokeWidth":1}},
   {"data":{"name":"pts"},"transform":[{"filter":"datum.p==='p5'"}],"mark":{"type":"point","shape":"diamond","filled":true,"strokeWidth":0.8},
    "encoding":{
     "fill":{"field":"s","type":"nominal","scale":{"domain":["10-100 Myr","binned"],"range":["#007000","#2e8b2e"]},"legend":{"orient":"none","legendX":165,"legendY":120,"title":null}},
     "stroke":{"field":"s","type":"nominal","scale":{"domain":["10-100 Myr","binned"],"range":["#004000","#333333"]},"legend":{"orient":"none","legendX":165,"legendY":120,"title":null}},
     "size":{"field":"s","type":"ordinal","scale":{"domain":["10-100 Myr","binned"],"range":[32,170]},"legend":{"orient":"none","legendX":165,"legendY":120,"title":null}},
     "opacity":{"field":"s","type":"ordinal","scale":{"domain":["10-100 Myr","binned"],"range":[1,0.6]},"legend":{"orient":"none","legendX":165,"legendY":120,"title":null}}}},
   {"data":{"name":"nlab"},"transform":[{"filter":"datum.p==='p5'"}],"mark":{"type":"text","angle":270,"align":"left","baseline":"middle","fontSize":5.5,"fontWeight":"bold"},"encoding":{"text":{"field":"t","type":"nominal"}}},
   {"data":{"name":"ann"},"transform":[{"filter":"datum.p==='p5' && datum.k==='rho'"}],"mark":{"type":"text","align":"left","baseline":"middle","font":"DejaVu Serif","fontStyle":"italic","fontSize":10},"encoding":{"text":{"field":"t","type":"nominal"}}},
   {"data":{"name":"ann"},"transform":[{"filter":"datum.p==='p5' && datum.k==='med'"}],"mark":{"type":"text","align":"right","baseline":"middle","fontSize":7.5,"fontWeight":"bold"},"encoding":{"text":{"field":"t","type":"nominal"}}},
   {"data":{"name":"ann"},"transform":[{"filter":"datum.p==='p5' && datum.k==='tsp'"}],"mark":{"type":"text","align":"right","baseline":"middle","fontSize":5.3,"fontWeight":"bold"},"encoding":{"text":{"field":"t","type":"nominal"}}},
   {"data":{"name":"ann"},"transform":[{"filter":"datum.p==='p5' && datum.k==='nocl'"}],"mark":{"type":"text","align":"left","baseline":"bottom","fontSize":5.3,"dy":-1},"encoding":{"text":{"field":"t","type":"nominal"}}},
   {"data":{"name":"ann"},"transform":[{"filter":"datum.p==='p5' && datum.k==='nbin'"}],"mark":{"type":"text","align":"right","baseline":"middle","fontSize":5.3},"encoding":{"text":{"field":"t","type":"nominal"}}}
  ]}
 ]}
]
}
